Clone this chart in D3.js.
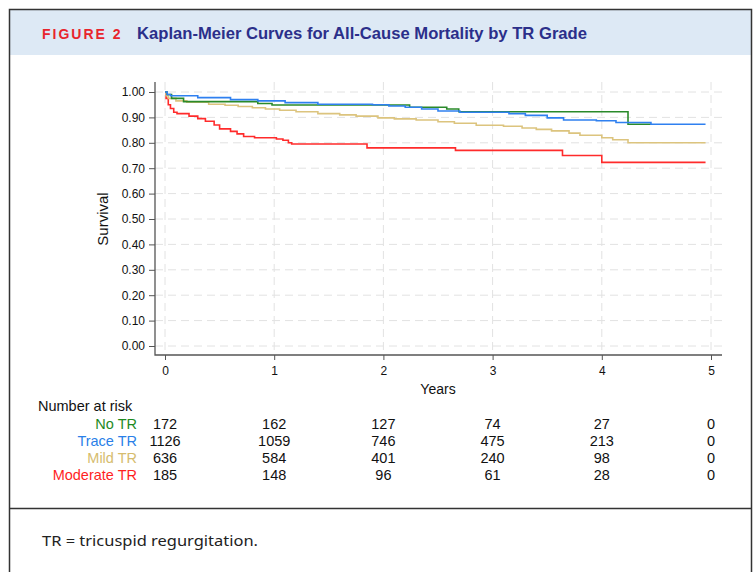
<!DOCTYPE html>
<html>
<head>
<meta charset="utf-8">
<script src="https://cdn.jsdelivr.net/npm/d3@7"></script>
<style>
  body { margin: 0; background: #fff; }
  svg { display: block; font-family: "Liberation Sans", Arial, sans-serif; }
</style>
</head>
<body>
<svg id="chart" width="755" height="572"></svg>
<script>
// Kaplan-Meier step knots [years, survival]
const kmNoTR = [[0,1.00],[0.02,0.99],[0.06,0.975],[0.17,0.962],[0.85,0.955],[0.98,0.949],
  [2.24,0.94],[2.58,0.933],[2.69,0.922],[4.24,0.873],[4.45,0.873]];
const kmTrace = [[0,1.00],[0.02,0.99],[0.05,0.985],[0.3,0.978],[0.6,0.97],[0.85,0.965],
  [1.1,0.958],[1.4,0.952],[1.9,0.95],[2.05,0.945],[2.2,0.94],[2.35,0.933],[2.5,0.925],
  [2.7,0.92],[3.15,0.915],[3.3,0.908],[3.5,0.898],[3.65,0.89],[3.95,0.887],[4.13,0.88],
  [4.45,0.873],[4.95,0.873]];
const kmMild = [[0,1.00],[0.01,0.985],[0.03,0.975],[0.1,0.965],[0.2,0.96],[0.4,0.952],
  [0.55,0.948],[0.67,0.943],[0.8,0.938],[0.92,0.933],[1.05,0.928],[1.2,0.922],[1.4,0.915],
  [1.6,0.91],[1.75,0.905],[1.95,0.898],[2.1,0.894],[2.3,0.89],[2.5,0.883],[2.65,0.877],
  [2.85,0.869],[3.1,0.865],[3.27,0.858],[3.4,0.853],[3.54,0.847],[3.7,0.838],[3.8,0.83],
  [4.0,0.82],[4.1,0.812],[4.24,0.80],[4.95,0.80]];
const kmModerate = [[0,1.00],[0.01,0.975],[0.03,0.95],[0.05,0.935],[0.08,0.92],[0.11,0.915],
  [0.22,0.905],[0.30,0.895],[0.37,0.885],[0.45,0.87],[0.50,0.855],[0.60,0.845],[0.66,0.835],
  [0.72,0.825],[0.82,0.82],[1.02,0.815],[1.08,0.81],[1.13,0.80],[1.16,0.795],[1.85,0.78],
  [2.66,0.77],[3.64,0.75],[4.00,0.723],[4.95,0.723]];

const groups = ["No TR", "Trace TR", "Mild TR", "Moderate TR"];
const lineColors = ["#2a8a2a", "#2f80f0", "#dcc47e", "#ff2b2b"];
const labelColors = ["#1e8a1e", "#2a7fe8", "#d6bc6e", "#ff1f1f"];

// number at risk
const riskTimes = [0, 1, 2, 3, 4, 5];
const riskNoTR = [172, 162, 127, 74, 27, 0];
const riskTrace = [1126, 1059, 746, 475, 213, 0];
const riskMild = [636, 584, 401, 240, 98, 0];
const riskModerate = [185, 148, 96, 61, 28, 0];

const xTicks = [0, 1, 2, 3, 4, 5];
const yTicks = [0, 0.1, 0.2, 0.3, 0.4, 0.5, 0.6, 0.7, 0.8, 0.9, 1.0];

const curves = [kmNoTR, kmTrace, kmMild, kmModerate];
const risks = [riskNoTR, riskTrace, riskMild, riskModerate];

const svg = d3.select("#chart");

// frame + header band
svg.append("rect").attr("x", 9).attr("y", 9).attr("width", 743).attr("height", 46)
  .attr("fill", "#dde9f5");
svg.append("path").attr("d", "M9.5,572 V9.5 H751.5 V572")
  .attr("fill", "none").attr("stroke", "#333").attr("stroke-width", 1.5);
svg.append("line").attr("x1", 9).attr("x2", 752).attr("y1", 508.5).attr("y2", 508.5)
  .attr("stroke", "#333").attr("stroke-width", 1.5);

svg.append("text").attr("x", 42).attr("y", 39)
  .attr("fill", "#e8252d").attr("font-weight", "bold").attr("font-size", 14)
  .attr("letter-spacing", 2).text("FIGURE 2");
svg.append("text").attr("x", 137).attr("y", 39)
  .attr("fill", "#2b2f8a").attr("font-weight", "bold").attr("font-size", 16.5)
  .style("font-family", "'Liberation Sans Narrow', 'Liberation Sans', Arial, sans-serif")
  .attr("textLength", 450).attr("lengthAdjust", "spacingAndGlyphs")
  .text("Kaplan-Meier Curves for All-Cause Mortality by TR Grade");

svg.append("text").attr("x", 42).attr("y", 546)
  .attr("fill", "#222").attr("font-size", 15)
  .style("font-family", "'Noto Sans', 'DejaVu Sans', sans-serif")
  .attr("textLength", 216).attr("lengthAdjust", "spacingAndGlyphs")
  .text("TR = tricuspid regurgitation.");

// scales
const x = d3.scaleLinear().domain([0, 5]).range([165, 711]);
const y = d3.scaleLinear().domain([0, 1]).range([346, 92]);
const axisX = 155, axisY = 355, plotRight = 722, plotTop = 82;

// grid
const grid = svg.append("g").attr("stroke", "#e2e2e2").attr("stroke-width", 1)
  .attr("stroke-dasharray", "8,5");
grid.selectAll(".hg").data(yTicks).join("line")
  .attr("x1", axisX).attr("x2", plotRight)
  .attr("y1", d => y(d)).attr("y2", d => y(d));
grid.selectAll(".vg").data(xTicks).join("line")
  .attr("x1", d => x(d)).attr("x2", d => x(d))
  .attr("y1", plotTop).attr("y2", axisY);

// axes
const yAxis = svg.append("g").attr("transform", `translate(${axisX},0)`)
  .call(d3.axisLeft(y).tickValues(yTicks).tickFormat(d3.format(".2f"))
    .tickSize(6).tickPadding(4));
const xAxis = svg.append("g").attr("transform", `translate(0,${axisY})`)
  .call(d3.axisBottom(x).tickValues(xTicks).tickFormat(d3.format("d"))
    .tickSize(5).tickPadding(6));
[yAxis, xAxis].forEach(a => {
  a.attr("font-size", 12);
  a.select(".domain").remove();
  a.selectAll(".tick line").attr("stroke", "#555");
  a.selectAll(".tick text").attr("fill", "#111")
    .style("font-family", "'Liberation Sans', Arial, sans-serif");
});
svg.append("path").attr("d", `M${axisX},${plotTop} V${axisY} H${plotRight}`)
  .attr("fill", "none").attr("stroke", "#555").attr("stroke-width", 1.3);

svg.append("text").attr("x", (x(0) + x(5)) / 2).attr("y", 394)
  .attr("text-anchor", "middle").attr("font-size", 14).attr("fill", "#111").text("Years");
svg.append("text").attr("transform", `translate(108,${(y(0) + y(1)) / 2}) rotate(-90)`)
  .attr("text-anchor", "middle").attr("font-size", 15).attr("fill", "#111").text("Survival");

// curves (moderate first, trace on top)
const line = d3.line().x(d => x(d[0])).y(d => y(d[1])).curve(d3.curveStepAfter);
[3, 2, 0, 1].forEach(i => {
  svg.append("path").datum(curves[i]).attr("d", line)
    .attr("fill", "none").attr("stroke", lineColors[i]).attr("stroke-width", 1.6);
});

// number at risk table
const rowY = [429, 446, 463, 480];
svg.append("text").attr("x", 38).attr("y", 411).attr("font-size", 14.5)
  .attr("fill", "#111").text("Number at risk");
groups.forEach((g, i) => {
  svg.append("text").attr("x", 137).attr("y", rowY[i]).attr("text-anchor", "end")
    .attr("font-size", 14.5).attr("fill", labelColors[i]).text(g);
  svg.append("g").selectAll("text").data(risks[i]).join("text")
    .attr("x", (d, j) => x(riskTimes[j])).attr("y", rowY[i])
    .attr("text-anchor", "middle").attr("font-size", 14.5).attr("fill", "#111")
    .text(d => d);
});
</script>
</body>
</html>
